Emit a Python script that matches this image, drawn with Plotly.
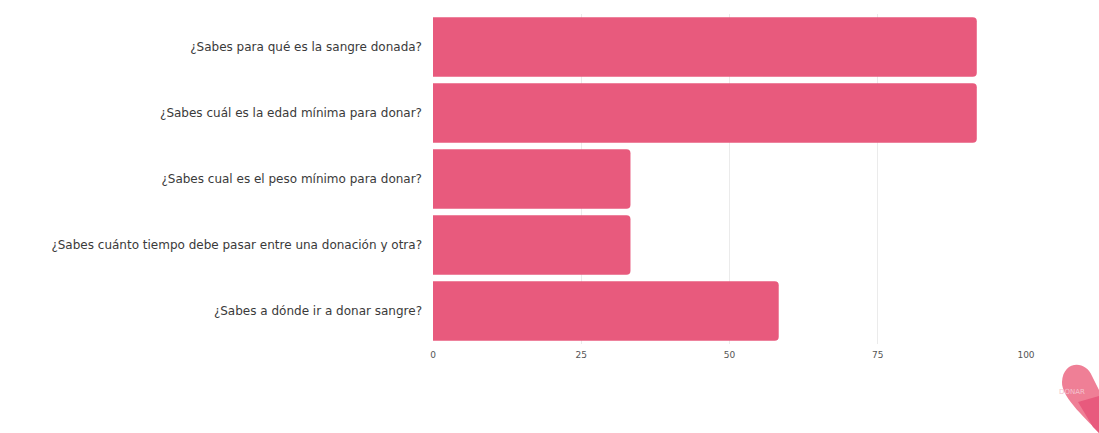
import plotly.graph_objects as go

categories = [
    "¿Sabes para qué es la sangre donada?",
    "¿Sabes cuál es la edad mínima para donar?",
    "¿Sabes cual es el peso mínimo para donar?",
    "¿Sabes cuánto tiempo debe pasar entre una donación y otra?",
    "¿Sabes a dónde ir a donar sangre?",
]
values = [91.7, 91.7, 33.3, 33.3, 58.3]
x_ticks = [0, 25, 50, 75, 100]

W, H = 1099, 433
L, R, T, B = 433, 73, 14, 89

fig = go.Figure(go.Bar(
    x=values, y=categories, orientation="h",
    marker=dict(color="#E85A7D", cornerradius=4, line=dict(width=0)),
    hoverinfo="skip",
))

pw = W - L - R
ph = H - T - B
def px(x):
    return (x - L) / pw
def py(y):
    return (H - B - y) / ph

# decorative logo in bottom-right corner
logo_path = "M {a},{b} C {c},{d} {e},{f} {g},{h} L {i},{j} L {k},{l} C {m},{n} {o},{p} {a},{b} Z".format(
    a=px(1062), b=py(382), c=px(1063), d=py(360), e=px(1086), f=py(360),
    g=px(1092), h=py(376), i=px(1099), j=py(390), k=px(1099), l=py(433),
    m=px(1090), n=py(422), o=px(1061), p=py(398))
fig.add_shape(type="path", path=logo_path, xref="paper", yref="paper",
              fillcolor="#EF7F96", line=dict(width=0), layer="above")
lower_path = "M {a},{b} L {c},{d} L {e},{f} L {g},{h} Z".format(
    a=px(1078), b=py(402), c=px(1099), d=py(396), e=px(1099), f=py(433),
    g=px(1093), h=py(427))
fig.add_shape(type="path", path=lower_path, xref="paper", yref="paper",
              fillcolor="#E85A7D", line=dict(width=0), layer="above")
fig.add_annotation(x=px(1057), y=py(398), xref="paper", yref="paper",
                   text="DONAR", showarrow=False, xanchor="left",
                   font=dict(family="DejaVu Sans", size=7, color="#F4C2CE"))

fig.update_layout(
    width=W, height=H,
    margin=dict(l=L, r=R, t=T, b=B, pad=0),
    paper_bgcolor="white", plot_bgcolor="white",
    bargap=0.1,
    showlegend=False,
    font=dict(family="DejaVu Sans", color="#3a3a3a"),
    xaxis=dict(range=[0, 100], tickvals=x_ticks, showgrid=True,
               gridcolor="#EBEBEB", gridwidth=1, zeroline=False,
               showline=False, ticklabelstandoff=4,
               tickfont=dict(size=9, color="#555555")),
    yaxis=dict(categoryorder="array", categoryarray=categories,
               autorange="reversed", showgrid=False, zeroline=False,
               showline=False, ticklabelstandoff=10,
               tickfont=dict(size=12, color="#3a3a3a")),
)

fig.write_html("out.html")
